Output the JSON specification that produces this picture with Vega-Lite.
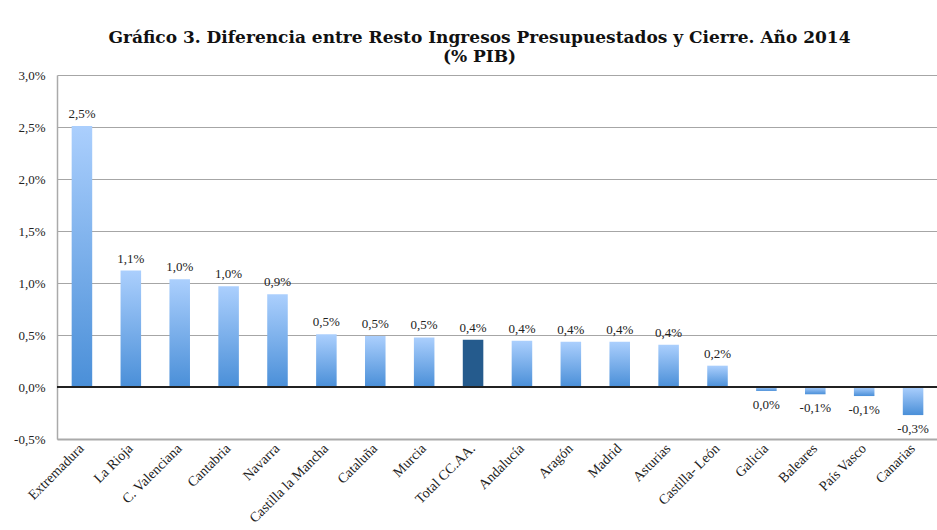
{
  "$schema": "https://vega.github.io/schema/vega-lite/v6.json",
  "width": 881,
  "height": 364,
  "autosize": {"type": "none"},
  "padding": {"left": 57, "top": 75, "right": 0, "bottom": 91},
  "background": "white",
  "title": {
    "text": ["Gráfico 3. Diferencia entre Resto Ingresos Presupuestados y Cierre. Año 2014", "(% PIB)"],
    "font": "DejaVu Serif",
    "fontSize": 17,
    "fontWeight": "bold",
    "color": "#111111",
    "anchor": "middle",
    "dx": -18,
    "offset": 3,
    "lineHeight": 19
  },
  "data": {
    "values": [
      {"region": "Extremadura", "value": 2.51, "label": "2,5%"},
      {"region": "La Rioja", "value": 1.12, "label": "1,1%"},
      {"region": "C. Valenciana", "value": 1.035, "label": "1,0%"},
      {"region": "Cantabria", "value": 0.968, "label": "1,0%"},
      {"region": "Navarra", "value": 0.891, "label": "0,9%"},
      {"region": "Castilla la Mancha", "value": 0.507, "label": "0,5%"},
      {"region": "Cataluña", "value": 0.49, "label": "0,5%"},
      {"region": "Murcia", "value": 0.477, "label": "0,5%"},
      {"region": "Total CC.AA.", "value": 0.455, "label": "0,4%"},
      {"region": "Andalucía", "value": 0.445, "label": "0,4%"},
      {"region": "Aragón", "value": 0.435, "label": "0,4%"},
      {"region": "Madrid", "value": 0.435, "label": "0,4%"},
      {"region": "Asturias", "value": 0.407, "label": "0,4%"},
      {"region": "Castilla- León", "value": 0.205, "label": "0,2%"},
      {"region": "Galicia", "value": -0.038, "label": "0,0%"},
      {"region": "Baleares", "value": -0.07, "label": "-0,1%"},
      {"region": "País Vasco", "value": -0.087, "label": "-0,1%"},
      {"region": "Canarias", "value": -0.27, "label": "-0,3%"}
    ]
  },
  "config": {
    "view": {"stroke": null},
    "font": "Liberation Serif"
  },
  "layer": [
    {
      "transform": [{"filter": "datum.region !== 'Total CC.AA.'"}],
      "mark": {
        "type": "bar",
        "color": {
          "gradient": "linear",
          "x1": 0, "y1": 0, "x2": 0, "y2": 1,
          "stops": [
            {"offset": 0, "color": "#abcffd"},
            {"offset": 1, "color": "#4a8fd8"}
          ]
        }
      },
      "encoding": {
        "x": {
          "field": "region", "type": "nominal", "sort": null,
          "scale": {
            "domain": ["Extremadura", "La Rioja", "C. Valenciana", "Cantabria", "Navarra", "Castilla la Mancha", "Cataluña", "Murcia", "Total CC.AA.", "Andalucía", "Aragón", "Madrid", "Asturias", "Castilla- León", "Galicia", "Baleares", "País Vasco", "Canarias"],
            "paddingInner": 0.58, "paddingOuter": 0.3
          },
          "axis": {
            "title": null,
            "labelAngle": -45,
            "labelAlign": "right",
            "labelBaseline": "middle",
            "labelFont": "Liberation Serif",
            "labelFontSize": 14,
            "labelColor": "#222222",
            "labelPadding": 7,
            "ticks": false,
            "domainColor": "#aaaaaa",
            "domainWidth": 2,
            "grid": false
          }
        },
        "y": {
          "field": "value", "type": "quantitative",
          "scale": {"domain": [-0.5, 3.0], "nice": false, "zero": false},
          "axis": {
            "title": null,
            "values": [-0.5, 0, 0.5, 1, 1.5, 2, 2.5, 3],
            "labelExpr": "replace(replace(format(datum.value, '.1f'), '.', ','), '\u2212', '-') + '%'",
            "labelFont": "Liberation Serif",
            "labelFontSize": 13,
            "labelColor": "#222222",
            "labelPadding": 12,
            "ticks": false,
            "domainColor": "#aaaaaa",
            "domainWidth": 1.5,
            "gridColor": "#a6a6a6",
            "gridWidth": 1
          }
        }
      }
    },
    {
      "transform": [{"filter": "datum.region === 'Total CC.AA.'"}],
      "mark": {"type": "bar", "color": "#255b8d"},
      "encoding": {
        "x": {"field": "region", "type": "nominal", "sort": null},
        "y": {"field": "value", "type": "quantitative"}
      }
    },
    {
      "mark": {"type": "rule", "color": "#222222", "strokeWidth": 1.5},
      "encoding": {"y": {"datum": 0}}
    },
    {
      "transform": [{"filter": "datum.value >= 0"}],
      "mark": {"type": "text", "baseline": "bottom", "dy": -5, "font": "Liberation Serif", "fontSize": 13, "color": "#222222"},
      "encoding": {
        "x": {"field": "region", "type": "nominal", "sort": null},
        "y": {"field": "value", "type": "quantitative"},
        "text": {"field": "label"}
      }
    },
    {
      "transform": [{"filter": "datum.value < 0"}],
      "mark": {"type": "text", "baseline": "top", "dy": 8, "font": "Liberation Serif", "fontSize": 13, "color": "#222222"},
      "encoding": {
        "x": {"field": "region", "type": "nominal", "sort": null},
        "y": {"field": "value", "type": "quantitative"},
        "text": {"field": "label"}
      }
    }
  ]
}
